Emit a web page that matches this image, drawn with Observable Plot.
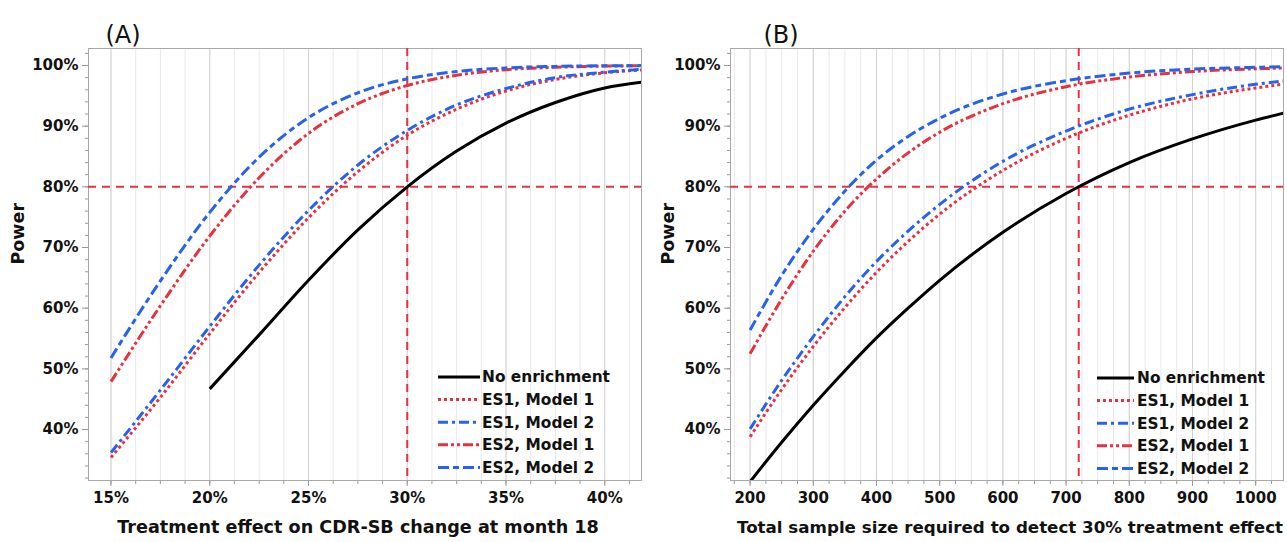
<!DOCTYPE html>
<html><head><meta charset="utf-8">
<script src="https://cdn.jsdelivr.net/npm/d3@7"></script>
<script src="https://cdn.jsdelivr.net/npm/@observablehq/plot@0.6"></script>
<style>
body{margin:0;background:#fff;}
#wrap{position:relative;width:1287px;height:542px;overflow:hidden;font-family:"DejaVu Sans",sans-serif;}
.panel{position:absolute;top:0;}
#legend{position:absolute;left:0;top:0;pointer-events:none;}
</style></head><body><div id="wrap"></div>
<script>
// ---- data ----
const seriesNames = ["No enrichment", "ES1, Model 1", "ES1, Model 2", "ES2, Model 1", "ES2, Model 2"];

// Panel A: power vs treatment effect (%)
const effectA = [15, 17.5, 20, 22.5, 25, 27.5, 30, 32.5, 35, 37.5, 40, 42];
const noEnrichA = [null, null, 46.7, 55.6, 64.6, 72.9, 80.0, 85.9, 90.5, 93.9, 96.3, 97.3];
const es1m1A = [35.4, 45.3, 55.8, 65.9, 74.9, 82.5, 88.5, 92.8, 95.8, 97.7, 98.8, 99.3];
const es1m2A = [36.2, 46.5, 57.0, 67.1, 76.1, 83.6, 89.3, 93.5, 96.2, 98.0, 98.9, 99.4];
const es2m1A = [47.9, 60.4, 71.9, 81.5, 88.8, 93.7, 96.7, 98.4, 99.3, 99.7, 99.9, 99.95];
const es2m2A = [51.8, 64.5, 75.8, 84.9, 91.4, 95.5, 97.8, 99.0, 99.6, 99.85, 99.95, 99.98];

// Panel B: power vs total sample size
const sizeB = [200, 250, 300, 350, 400, 450, 500, 600, 700, 800, 900, 1000, 1050];
const noEnrichB = [31.4, 37.9, 44.0, 49.7, 55.1, 60.0, 64.6, 72.5, 78.9, 84.0, 87.9, 91.0, 92.3];
const es1m1B = [38.8, 46.6, 53.7, 60.1, 65.9, 71.0, 75.5, 82.7, 88.0, 91.8, 94.5, 96.3, 97.0];
const es1m2B = [40.1, 48.1, 55.3, 61.9, 67.7, 72.7, 77.1, 84.2, 89.2, 92.8, 95.2, 96.9, 97.5];
const es2m1B = [52.5, 61.5, 69.4, 76.0, 81.3, 85.6, 89.0, 93.7, 96.5, 98.1, 99.0, 99.45, 99.6];
const es2m2B = [56.4, 65.4, 73.0, 79.3, 84.4, 88.3, 91.3, 95.3, 97.5, 98.75, 99.4, 99.7, 99.8];

// ticks and references
const powerTicks = [40, 50, 60, 70, 80, 90, 100];
const effectTicks = [15, 20, 25, 30, 35, 40];
const sizeTicks = [200, 300, 400, 500, 600, 700, 800, 900, 1000];
const refPower = 80;
const refEffect = 30;
const refSize = 720;

// ---- styles ----
const RED = "#e8313f", BLUE = "#2563ee";
const seriesStyle = [
  {stroke: "#000", dash: null},
  {stroke: RED, dash: "3,3"},
  {stroke: BLUE, dash: "10,4,3,4"},
  {stroke: RED, dash: "10,3,3,3,3,3"},
  {stroke: BLUE, dash: "11,4,6,4"}
];
const FONT = "DejaVu Sans";
const H = 542, MT = 48, MB = 62;

function makePanel(o) {
  const rowsBySeries = o.series.map(ys => o.xs.map((x, i) => ({x, y: ys[i]})).filter(d => d.y != null));
  const marks = [
    Plot.gridX(o.xMinor, {stroke: "#e9e9e9", strokeOpacity: 1}),
    Plot.gridX(o.xMajor, {stroke: "#d2d2d2", strokeOpacity: 1}),
    Plot.axisY(d3.range(32, 103, 2), {tickSize: 3, tickFormat: () => "", stroke: "#999", label: null}),
    Plot.axisY(powerTicks, {tickSize: 6, tickFormat: () => "", stroke: "#999", label: null}),
    Plot.axisY(powerTicks, {tickSize: 0, tickPadding: 10, tickFormat: d => d + "%", label: null, fill: "#111"}),
    Plot.axisX(o.xMinor, {tickSize: 4, tickFormat: () => "", stroke: "#999", label: null}),
    Plot.axisX(o.xMajor, {tickSize: 6, tickFormat: () => "", stroke: "#999", label: null}),
    Plot.axisX(o.xMajor, {tickSize: 0, tickPadding: 12, tickFormat: o.xFormat, label: null, fill: "#111"}),
    Plot.frame({stroke: "#a8a8a8"}),
    Plot.ruleY([refPower], {stroke: RED, strokeWidth: 2, strokeDasharray: "8,6", strokeLinecap: "butt"}),
    Plot.ruleX([o.refX], {stroke: RED, strokeWidth: 2, strokeDasharray: "8,6", strokeLinecap: "butt"}),
    ...rowsBySeries.map((rows, i) => Plot.line(rows, {
      x: "x", y: "y", curve: "monotone-x", clip: true,
      stroke: seriesStyle[i].stroke, strokeWidth: 3,
      strokeLinecap: "butt", strokeLinejoin: "round",
      strokeDasharray: seriesStyle[i].dash || undefined
    })),
    Plot.text([o.title], {frameAnchor: "top-left", dx: o.titleDx, dy: -23, text: d => d,
      fontSize: 24, fontWeight: "normal", textAnchor: "start", fill: "#111"}),
    Plot.text(["Power"], {frameAnchor: "left", dx: o.powerDx, rotate: -90, text: d => d,
      fontSize: 17.5, fontWeight: "bold", fill: "#111"}),
    Plot.text([o.xLabel], {frameAnchor: "bottom", dx: o.labelDx, dy: 52, text: d => d,
      fontSize: o.labelSize, fontWeight: "bold", fill: "#111"})
  ];
  return Plot.plot({
    width: o.width, height: H,
    marginTop: MT, marginBottom: MB, marginLeft: o.marginLeft, marginRight: o.marginRight,
    x: {domain: o.xDomain},
    y: {domain: [31.6, 102.8]},
    style: {fontFamily: FONT, fontWeight: "bold", fontSize: "15px", color: "#111", background: "#fff"},
    marks
  });
}

const wrap = document.getElementById("wrap");

const pA = makePanel({
  xs: effectA, series: [noEnrichA, es1m1A, es1m2A, es2m1A, es2m2A],
  xDomain: [13.86, 41.86], xMajor: effectTicks, xMinor: d3.range(15, 41.5, 1.25),
  xFormat: d => d + "%", refX: refEffect, title: "(A)", titleDx: 17,
  xLabel: "Treatment effect on CDR-SB change at month 18", labelSize: 17.6, labelDx: -7,
  width: 645, marginLeft: 88, marginRight: 4, powerDx: -70
});
const dA = document.createElement("div"); dA.className = "panel"; dA.style.left = "0px"; dA.appendChild(pA); wrap.appendChild(dA);

const pB = makePanel({
  xs: sizeB, series: [noEnrichB, es1m1B, es1m2B, es2m1B, es2m2B],
  xDomain: [169, 1044], xMajor: sizeTicks, xMinor: d3.range(175, 1044, 25),
  xFormat: d => String(d), refX: refSize, title: "(B)", titleDx: 33,
  xLabel: "Total sample size required to detect 30% treatment effect", labelSize: 16.7, labelDx: 3,
  width: 642, marginLeft: 85, marginRight: 4, powerDx: -62
});
const dB = document.createElement("div"); dB.className = "panel"; dB.style.left = "645px"; dB.appendChild(pB); wrap.appendChild(dB);

// ---- legends ----
const leg = d3.select(wrap).append("svg").attr("id", "legend").attr("width", 1287).attr("height", 542);
const legendSpecs = [{x0: 438, x1: 480, tx: 482, y0: 377}, {x0: 1097, x1: 1134, tx: 1137, y0: 378}];
legendSpecs.forEach(L => {
  seriesNames.forEach((name, i) => {
    const y = L.y0 + i * 22.6;
    leg.append("line").attr("x1", L.x0).attr("x2", L.x1).attr("y1", y).attr("y2", y)
      .attr("stroke", seriesStyle[i].stroke).attr("stroke-width", 3)
      .attr("stroke-dasharray", seriesStyle[i].dash);
    leg.append("text").attr("x", L.tx).attr("y", y).attr("dy", "0.35em")
      .attr("font-family", FONT).attr("font-weight", "bold").attr("font-size", 15.4)
      .attr("fill", "#111").text(name);
  });
});
</script></body></html>
